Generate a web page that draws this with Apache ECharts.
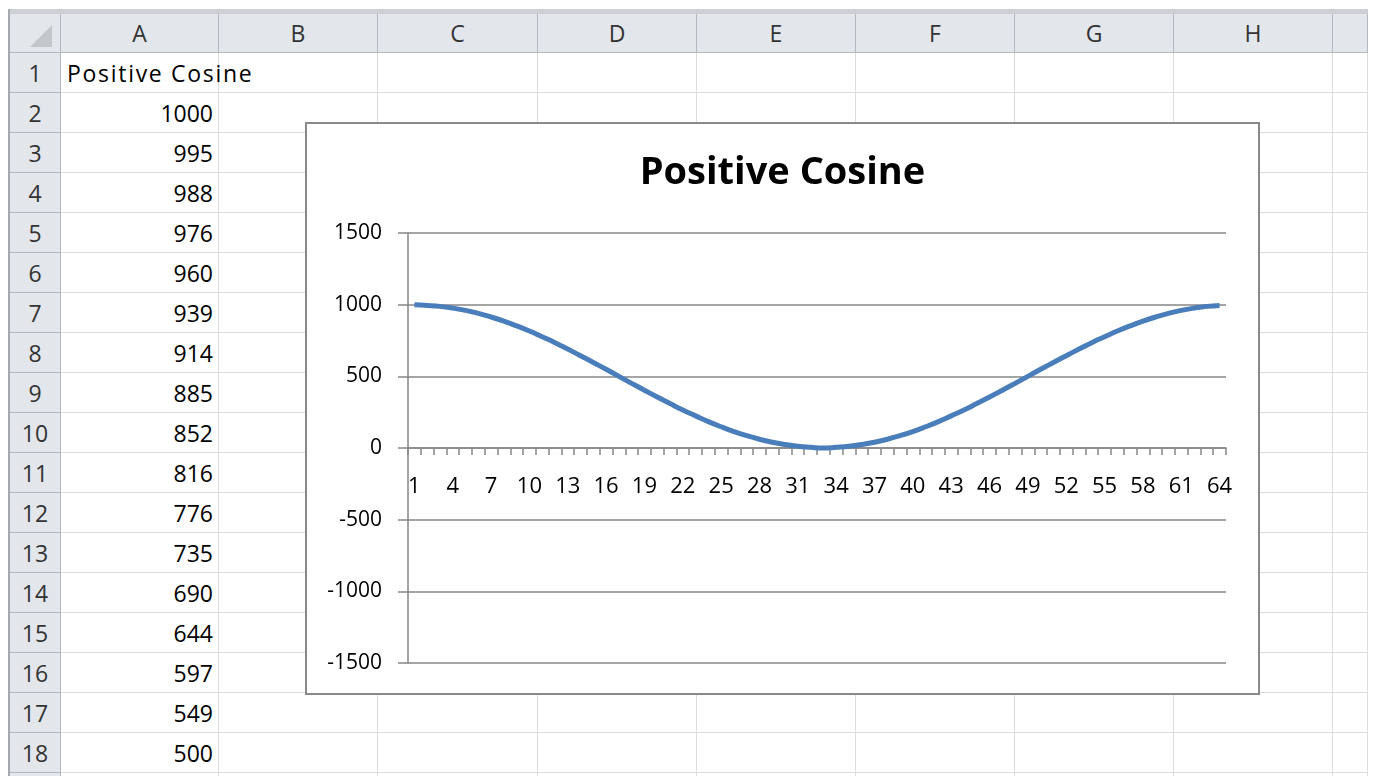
<!DOCTYPE html>
<html>
<head>
<meta charset="utf-8">
<script src="https://cdn.jsdelivr.net/npm/echarts@6/dist/echarts.min.js"></script>
<style>
body { margin: 0; width: 1375px; height: 776px; overflow: hidden; background: #fff; position: relative; font-family: "Open Sans", Lato, sans-serif; }
.cell { position: absolute; box-sizing: border-box; border-right: 1px solid #dadcdd; border-bottom: 1px solid #dadcdd; font-size: 23px; line-height: 40px; white-space: nowrap; color: #000; }
.head { background: #e3e6eb; border-right: 1px solid #b3b8bf; border-bottom: 1px solid #b3b8bf; color: #333; text-align: center; }
.num { text-align: right; padding-right: 5px; }
.txt { text-align: left; padding-left: 6px; overflow: visible; z-index: 1; letter-spacing: 1.7px; }
#chart { position: absolute; left: 305px; top: 122px; width: 955px; height: 573px; box-sizing: border-box; border: 2px solid #8a8a8a; background: #fff; z-index: 5; }
</style>
</head>
<body>
<div id="sheet"></div>
<div id="chart"></div>
<script>
// data
const categories = ['1','2','3','4','5','6','7','8','9','10','11','12','13','14','15','16',
  '17','18','19','20','21','22','23','24','25','26','27','28','29','30','31','32',
  '33','34','35','36','37','38','39','40','41','42','43','44','45','46','47','48',
  '49','50','51','52','53','54','55','56','57','58','59','60','61','62','63','64'];
const cosineValues = [1000, 995, 988, 976, 960, 939, 914, 885, 852, 816, 776, 735, 690, 644, 597, 549,
  500, 451, 403, 356, 310, 265, 224, 184, 148, 115, 86, 61, 40, 24, 12, 5,
  0, 5, 12, 24, 40, 61, 86, 115, 148, 184, 224, 265, 310, 356, 403, 451,
  500, 549, 597, 644, 690, 735, 776, 816, 852, 885, 914, 939, 960, 976, 988, 995];
const seriesName = 'Positive Cosine';
const columnLetters = ['A','B','C','D','E','F','G','H',''];
const visibleRows = 19;

// spreadsheet
const colWidths = [158, 159, 160, 159, 159, 159, 159, 159, 35];
const sheetLeft = 10, sheetTop = 14, rowHeadW = 51, headH = 39, rowH = 40;
const sheet = document.getElementById('sheet');

function addCell(x, y, w, h, cls, text) {
  const d = document.createElement('div');
  d.className = 'cell ' + cls;
  d.style.left = x + 'px';
  d.style.top = y + 'px';
  d.style.width = w + 'px';
  d.style.height = h + 'px';
  d.textContent = text;
  sheet.appendChild(d);
  return d;
}

// frame bars
const topBar = document.createElement('div');
topBar.style.cssText = 'position:absolute;left:8px;top:9px;width:1360px;height:5px;background:#ccd0d5';
sheet.appendChild(topBar);
const leftBar = document.createElement('div');
leftBar.style.cssText = 'position:absolute;left:8px;top:9px;width:2px;height:767px;background:#a4a9b0';
sheet.appendChild(leftBar);

// corner
const corner = addCell(sheetLeft, sheetTop, rowHeadW, headH, 'head', '');
const tri = document.createElement('div');
tri.style.cssText = 'position:absolute;right:8px;bottom:5px;width:0;height:0;border-left:22px solid transparent;border-bottom:22px solid #c3c7cc';
corner.appendChild(tri);

// column headers
let x = sheetLeft + rowHeadW;
columnLetters.forEach((c, i) => {
  addCell(x, sheetTop, colWidths[i], headH, 'head', c).style.lineHeight = '39px';
  x += colWidths[i];
});

// rows
for (let r = 1; r <= visibleRows; r++) {
  const y = sheetTop + headH + (r - 1) * rowH;
  addCell(sheetLeft, y, rowHeadW, rowH, 'head', String(r));
  let cx = sheetLeft + rowHeadW;
  columnLetters.forEach((c, i) => {
    let text = '', cls = '';
    if (i === 0 && r === 1) { text = seriesName; cls = 'txt'; }
    else if (i === 0 && r - 2 < cosineValues.length) { text = String(cosineValues[r - 2]); cls = 'num'; }
    addCell(cx, y, colWidths[i], rowH, cls, text);
    cx += colWidths[i];
  });
}

// chart
const chart = echarts.init(document.getElementById('chart'));
const axisGray = '#868686';
const fontFamily = '"Open Sans", Lato, sans-serif';
const plotHeight = 430;   // grid height in px
const yMin = -1500, yMax = 1500;
chart.setOption({
  animation: false,
  title: {
    text: seriesName,
    left: 'center',
    top: 25,
    textStyle: { fontFamily: fontFamily, fontWeight: 'bold', fontSize: 38, color: '#000' }
  },
  grid: { left: 101, top: 109, right: 32, bottom: 30 },
  xAxis: {
    type: 'category',
    data: categories,
    boundaryGap: true,
    // category axis sits on value 0, labels go with it
    offset: -plotHeight * (0 - yMin) / (yMax - yMin),
    axisLine: { show: true, onZero: false, lineStyle: { color: axisGray, width: 1.5 } },
    axisTick: { show: true, interval: 0, length: 7, lineStyle: { color: axisGray, width: 1.5 } },
    axisLabel: { interval: 2, margin: 28, fontSize: 22, color: '#000', fontFamily: fontFamily }
  },
  yAxis: {
    type: 'value',
    min: yMin,
    max: yMax,
    interval: 500,
    axisLine: { show: true, lineStyle: { color: axisGray, width: 1.5 } },
    axisTick: { show: true, length: 10, lineStyle: { color: axisGray, width: 1.5 } },
    axisLabel: { margin: 26, fontSize: 21, color: '#000', fontFamily: fontFamily, formatter: v => String(v) },
    splitLine: { lineStyle: { color: axisGray, width: 1.5 } }
  },
  series: [{
    name: seriesName,
    type: 'line',
    data: cosineValues,
    smooth: true,
    symbol: 'none',
    lineStyle: { color: '#4a7ebb', width: 5 }
  }]
});
</script>
</body>
</html>
